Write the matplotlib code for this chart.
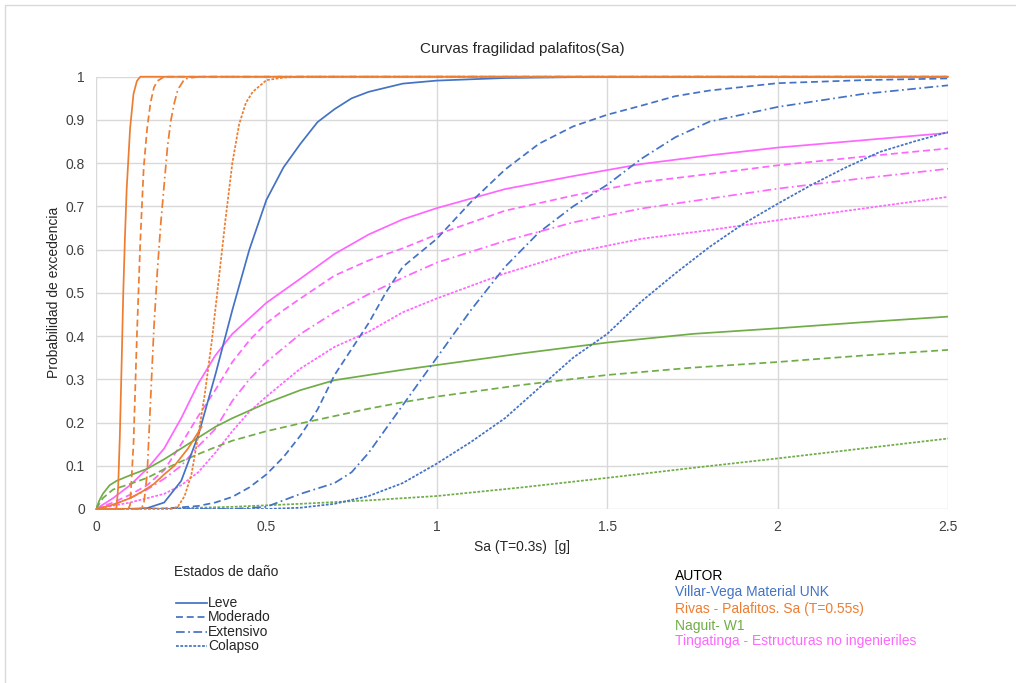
import matplotlib
matplotlib.use('Agg')
from matplotlib import pyplot as plt
from matplotlib.lines import Line2D
from matplotlib.patches import Rectangle

plt.rcParams['font.family'] = ['Liberation Sans', 'DejaVu Sans']

# colours per author (Excel palette)
c_villar = '#4472C4'
c_rivas = '#ED7D31'
c_naguit = '#70AD47'
c_tinga = '#FF66FF'

# Villar-Vega Material UNK
vv_leve_x = [0, 0.1, 0.15, 0.2, 0.25, 0.3, 0.35, 0.4, 0.45, 0.5, 0.55, 0.6, 0.65, 0.7, 0.75, 0.8, 0.9, 1.0, 1.2, 1.5, 2.5]
vv_leve_y = [0, 0, 0.002, 0.015, 0.065, 0.17, 0.31, 0.46, 0.60, 0.715, 0.79, 0.845, 0.895, 0.925, 0.95, 0.965, 0.984, 0.991, 0.997, 1.0, 1.0]
vv_mod_x = [0, 0.2, 0.3, 0.35, 0.4, 0.45, 0.5, 0.55, 0.6, 0.65, 0.7, 0.75, 0.8, 0.85, 0.9, 1.0, 1.1, 1.2, 1.3, 1.4, 1.5, 1.6, 1.7, 1.8, 2.0, 2.25, 2.5]
vv_mod_y = [0, 0.001, 0.007, 0.015, 0.028, 0.05, 0.08, 0.12, 0.17, 0.23, 0.31, 0.37, 0.43, 0.5, 0.56, 0.625, 0.71, 0.785, 0.845, 0.885, 0.912, 0.933, 0.955, 0.968, 0.985, 0.992, 0.996]
vv_ext_x = [0, 0.4, 0.5, 0.6, 0.7, 0.75, 0.8, 0.9, 1.0, 1.1, 1.2, 1.3, 1.4, 1.5, 1.6, 1.7, 1.8, 2.0, 2.25, 2.5]
vv_ext_y = [0, 0.0, 0.005, 0.035, 0.06, 0.085, 0.13, 0.24, 0.35, 0.46, 0.56, 0.64, 0.70, 0.75, 0.81, 0.86, 0.896, 0.93, 0.96, 0.98]
vv_col_x = [0, 0.5, 0.6, 0.7, 0.8, 0.9, 1.0, 1.1, 1.2, 1.3, 1.4, 1.5, 1.6, 1.7, 1.8, 1.9, 2.0, 2.1, 2.2, 2.3, 2.4, 2.5]
vv_col_y = [0, 0.0, 0.003, 0.012, 0.03, 0.06, 0.105, 0.155, 0.21, 0.28, 0.35, 0.405, 0.48, 0.545, 0.606, 0.66, 0.706, 0.75, 0.79, 0.826, 0.85, 0.872]

# Rivas - Palafitos Sa (T=0.55s)
rv_leve_x = [0, 0.05, 0.06, 0.065, 0.07, 0.075, 0.08, 0.085, 0.09, 0.095, 0.1, 0.11, 0.12, 0.13, 2.5]
rv_leve_y = [0, 0, 0.002, 0.05, 0.17, 0.33, 0.5, 0.63, 0.74, 0.81, 0.88, 0.96, 0.99, 1.0, 1.0]
rv_mod_x = [0, 0.095, 0.1, 0.11, 0.12, 0.13, 0.14, 0.15, 0.16, 0.17, 0.18, 0.2, 2.5]
rv_mod_y = [0, 0, 0.01, 0.15, 0.4, 0.62, 0.79, 0.88, 0.94, 0.975, 0.99, 1.0, 1.0]
rv_ext_x = [0, 0.13, 0.14, 0.15, 0.16, 0.17, 0.18, 0.19, 0.2, 0.21, 0.22, 0.23, 0.24, 0.26, 0.3, 2.5]
rv_ext_y = [0, 0, 0.01, 0.08, 0.25, 0.42, 0.55, 0.66, 0.75, 0.84, 0.9, 0.94, 0.97, 0.995, 1.0, 1.0]
rv_col_x = [0, 0.22, 0.24, 0.26, 0.28, 0.3, 0.32, 0.34, 0.36, 0.38, 0.4, 0.42, 0.44, 0.46, 0.5, 0.55, 0.6, 2.5]
rv_col_y = [0, 0, 0.005, 0.03, 0.08, 0.17, 0.27, 0.39, 0.53, 0.67, 0.8, 0.89, 0.94, 0.965, 0.992, 0.998, 1.0, 1.0]
# short extra Rivas curve near the origin
rv_low_x = [0, 0.05, 0.1, 0.135, 0.17, 0.2, 0.23, 0.25, 0.27, 0.29, 0.31]
rv_low_y = [0, 0.01, 0.025, 0.04, 0.058, 0.08, 0.1, 0.12, 0.14, 0.165, 0.19]

# Naguit - W1
ng_leve_x = [0, 0.01, 0.02, 0.04, 0.06, 0.1, 0.15, 0.2, 0.25, 0.3, 0.35, 0.4, 0.5, 0.6, 0.7, 0.8, 0.9, 1.0, 1.25, 1.5, 1.75, 2.0, 2.25, 2.5]
ng_leve_y = [0, 0.02, 0.035, 0.055, 0.065, 0.078, 0.093, 0.115, 0.14, 0.165, 0.19, 0.21, 0.245, 0.275, 0.298, 0.31, 0.322, 0.333, 0.36, 0.385, 0.405, 0.418, 0.432, 0.445]
ng_mod_x = [0, 0.02, 0.05, 0.1, 0.15, 0.2, 0.25, 0.3, 0.35, 0.4, 0.5, 0.6, 0.7, 0.8, 0.9, 1.0, 1.25, 1.5, 1.75, 2.0, 2.25, 2.5]
ng_mod_y = [0, 0.025, 0.045, 0.058, 0.072, 0.092, 0.11, 0.127, 0.143, 0.158, 0.18, 0.198, 0.215, 0.232, 0.247, 0.26, 0.287, 0.31, 0.327, 0.34, 0.355, 0.368]
ng_col_x = [0, 0.2, 0.4, 0.6, 0.8, 1.0, 1.25, 1.5, 1.75, 2.0, 2.25, 2.5]
ng_col_y = [0, 0.001, 0.005, 0.012, 0.02, 0.03, 0.05, 0.072, 0.095, 0.117, 0.14, 0.163]

# Tingatinga - Estructuras no ingenieriles
tg_leve_x = [0, 0.05, 0.1, 0.15, 0.2, 0.25, 0.3, 0.35, 0.4, 0.5, 0.6, 0.7, 0.8, 0.9, 1.0, 1.2, 1.4, 1.6, 1.8, 2.0, 2.25, 2.5]
tg_leve_y = [0, 0.025, 0.055, 0.093, 0.14, 0.21, 0.29, 0.355, 0.405, 0.477, 0.533, 0.59, 0.635, 0.67, 0.696, 0.74, 0.77, 0.798, 0.818, 0.836, 0.853, 0.87]
tg_mod_x = [0, 0.05, 0.1, 0.15, 0.2, 0.25, 0.3, 0.35, 0.4, 0.45, 0.5, 0.55, 0.6, 0.7, 0.8, 0.9, 1.0, 1.2, 1.4, 1.6, 1.8, 2.0, 2.25, 2.5]
tg_mod_y = [0, 0.015, 0.033, 0.055, 0.09, 0.15, 0.215, 0.275, 0.34, 0.39, 0.43, 0.46, 0.487, 0.54, 0.575, 0.603, 0.635, 0.69, 0.725, 0.756, 0.775, 0.795, 0.815, 0.834]
tg_ext_x = [0, 0.05, 0.1, 0.15, 0.2, 0.25, 0.3, 0.35, 0.4, 0.45, 0.5, 0.6, 0.7, 0.8, 0.9, 1.0, 1.2, 1.4, 1.6, 1.8, 2.0, 2.25, 2.5]
tg_ext_y = [0, 0.01, 0.025, 0.045, 0.07, 0.1, 0.145, 0.185, 0.25, 0.3, 0.34, 0.405, 0.455, 0.497, 0.535, 0.57, 0.62, 0.663, 0.695, 0.718, 0.741, 0.765, 0.787]
tg_col_x = [0, 0.1, 0.2, 0.25, 0.3, 0.35, 0.4, 0.45, 0.5, 0.6, 0.7, 0.8, 0.9, 1.0, 1.2, 1.4, 1.6, 1.8, 2.0, 2.25, 2.5]
tg_col_y = [0, 0.015, 0.035, 0.055, 0.085, 0.13, 0.18, 0.225, 0.26, 0.325, 0.375, 0.41, 0.455, 0.487, 0.545, 0.593, 0.625, 0.645, 0.668, 0.695, 0.722]

x_ticks = [0, 0.5, 1, 1.5, 2, 2.5]
x_tick_labels = ['0', '0.5', '1', '1.5', '2', '2.5']
y_ticks = [0, 0.1, 0.2, 0.3, 0.4, 0.5, 0.6, 0.7, 0.8, 0.9, 1.0]
y_tick_labels = ['0', '0.1', '0.2', '0.3', '0.4', '0.5', '0.6', '0.7', '0.8', '0.9', '1']

states = ['Leve', 'Moderado', 'Extensivo', 'Colapso']
authors = ['Villar-Vega Material UNK', 'Rivas - Palafitos. Sa (T=0.55s)',
           'Naguit- W1', 'Tingatinga - Estructuras no ingenieriles']

# Excel-like dash patterns
ls_leve = '-'
ls_mod = (0, (4, 2.2))
ls_ext = (0, (5, 2, 1, 2))
ls_col = (0, (1.6, 0.9))
lw = 1.25

fig = plt.figure(figsize=(10.16, 6.83), dpi=100)
fig.patches.append(Rectangle((5 / 1016, -0.1), 1.2, 1 - 5 / 683 + 0.1, transform=fig.transFigure,
                             fill=False, edgecolor='#D9D9D9', linewidth=1.0))
ax = fig.add_axes([96 / 1016, 1 - 509 / 683, (948 - 96) / 1016, (509 - 76.7) / 683])

ax.plot(tg_leve_x, tg_leve_y, color=c_tinga, ls=ls_leve, lw=lw)
ax.plot(tg_mod_x, tg_mod_y, color=c_tinga, ls=ls_mod, lw=lw)
ax.plot(tg_ext_x, tg_ext_y, color=c_tinga, ls=ls_ext, lw=lw)
ax.plot(tg_col_x, tg_col_y, color=c_tinga, ls=ls_col, lw=lw)

ax.plot(ng_leve_x, ng_leve_y, color=c_naguit, ls=ls_leve, lw=lw)
ax.plot(ng_mod_x, ng_mod_y, color=c_naguit, ls=ls_mod, lw=lw)
ax.plot(ng_col_x, ng_col_y, color=c_naguit, ls=ls_col, lw=lw)

ax.plot(vv_leve_x, vv_leve_y, color=c_villar, ls=ls_leve, lw=lw)
ax.plot(vv_mod_x, vv_mod_y, color=c_villar, ls=ls_mod, lw=lw)
ax.plot(vv_ext_x, vv_ext_y, color=c_villar, ls=ls_ext, lw=lw)
ax.plot(vv_col_x, vv_col_y, color=c_villar, ls=ls_col, lw=lw)

ax.plot(rv_low_x, rv_low_y, color=c_rivas, ls=ls_leve, lw=lw)
ax.plot(rv_leve_x, rv_leve_y, color=c_rivas, ls=ls_leve, lw=lw, clip_on=False)
ax.plot(rv_mod_x, rv_mod_y, color=c_rivas, ls=ls_mod, lw=lw, clip_on=False)
ax.plot(rv_ext_x, rv_ext_y, color=c_rivas, ls=ls_ext, lw=lw, clip_on=False)
ax.plot(rv_col_x, rv_col_y, color=c_rivas, ls=ls_col, lw=lw, clip_on=False)

ax.set_xlim(0, 2.5)
ax.set_ylim(0, 1)
ax.set_xticks(x_ticks)
ax.set_xticklabels(x_tick_labels)
ax.set_yticks(y_ticks)
ax.set_yticklabels(y_tick_labels)
ax.tick_params(length=0, labelsize=10, colors='#404040', pad=8)
ax.grid(True, color='#D9D9D9', lw=1.0)
ax.set_axisbelow(True)
for s in ax.spines.values():
    s.set_visible(False)

ax.set_title('Curvas fragilidad palafitos(Sa)', fontsize=11, color='#262626', pad=17)
ax.set_xlabel('Sa (T=0.3s)  [g]', fontsize=10, color='#262626', labelpad=4)
ax.set_ylabel('Probabilidad de excedencia', fontsize=10, color='#262626', labelpad=3)

# legend of damage states (line samples in blue)
fig.text(226 / 1016, 1 - 572 / 683, 'Estados de daño', ha='center', va='center', fontsize=10, color='#262626')
state_styles = [ls_leve, ls_mod, ls_ext, ls_col]
state_rows = [603, 617, 632, 646]
for name, ls, row in zip(states, state_styles, state_rows):
    yf = 1 - row / 683
    fig.add_artist(Line2D([176 / 1016, 207 / 1016], [yf, yf], color=c_villar, ls=ls, lw=lw,
                          transform=fig.transFigure))
    fig.text(208 / 1016, yf, name, ha='left', va='center', fontsize=10, color='#262626')

# legend of authors (coloured text)
fig.text(675 / 1016, 1 - 576 / 683, 'AUTOR', ha='left', va='center', fontsize=10, color='#000000')
author_colors = [c_villar, c_rivas, c_naguit, c_tinga]
author_rows = [592, 609, 626, 641]
for name, col, row in zip(authors, author_colors, author_rows):
    fig.text(675 / 1016, 1 - row / 683, name, ha='left', va='center', fontsize=10, color=col)

fig.savefig('out.png', dpi=100)
